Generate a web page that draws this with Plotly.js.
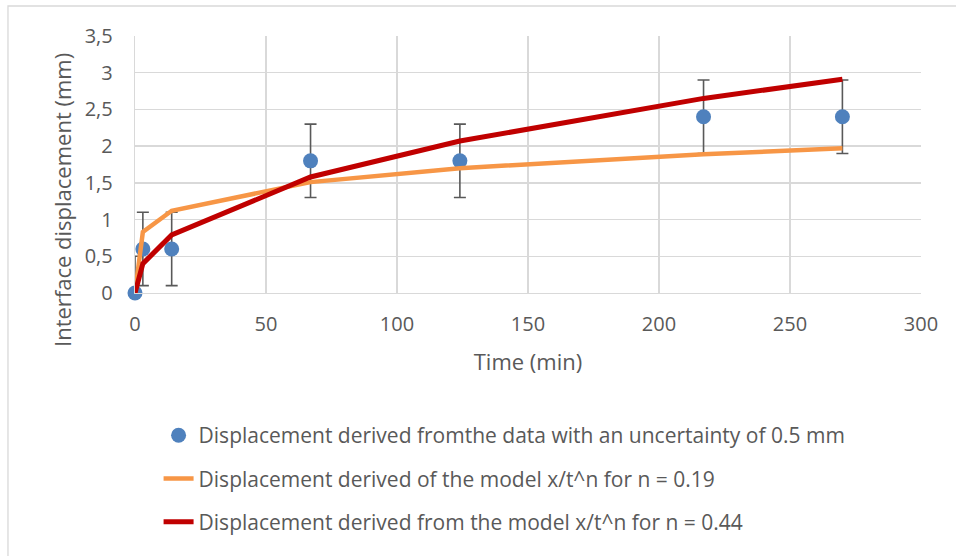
<!DOCTYPE html>
<html>
<head>
<meta charset="utf-8">
<script src="https://cdn.plot.ly/plotly-3.0.1.min.js"></script>
<style>html,body{margin:0;padding:0;background:#fff;}#chart{width:956px;height:556px;}</style>
</head>
<body>
<div id="chart"></div>
<script>
const timeData = [0, 3, 14, 67, 124, 217, 270];
const dispData = [0, 0.6, 0.6, 1.8, 1.8, 2.4, 2.4];
const uncertainty = [0.5, 0.5, 0.5, 0.5, 0.5, 0.5, 0.5];
const model019 = [0, 0.83, 1.12, 1.51, 1.70, 1.89, 1.97];
const model044 = [0, 0.40, 0.79, 1.58, 2.07, 2.65, 2.91];
const names = [
  "Displacement derived fromthe data with an uncertainty of 0.5 mm",
  "Displacement derived of the model x/t^n for n = 0.19",
  "Displacement derived from the model x/t^n for n = 0.44"
];
const xTitle = "Time (min)";
const yTitle = "Interface displacement (mm)";

const font = "'Open Sans', 'Liberation Sans', sans-serif";
const txt = "#595959";

const traces = [
  {
    x: timeData, y: dispData, name: names[0], type: "scatter", mode: "markers",
    marker: {color: "rgba(0,0,0,0)", size: 15},
    error_y: {type: "data", array: uncertainty, visible: true, color: "#595959", thickness: 1.6, width: 6},
    showlegend: false, hoverinfo: "skip", cliponaxis: true
  },
  {
    x: timeData, y: dispData, name: names[0], type: "scatter", mode: "markers",
    marker: {color: "#4f81bd", size: 15},
    legendgroup: "a", cliponaxis: false
  },
  {
    x: timeData, y: model019, name: names[1], type: "scatter", mode: "lines",
    line: {color: "#f79646", width: 4.5},
    legendgroup: "b"
  },
  {
    x: timeData, y: model044, name: names[2], type: "scatter", mode: "lines",
    line: {color: "#c00000", width: 5},
    legendgroup: "c"
  }
];

const layout = {
  width: 956, height: 556,
  paper_bgcolor: "#fff", plot_bgcolor: "#fff",
  separators: ", ",
  margin: {l: 135, r: 35, t: 36, b: 263},
  font: {family: font, size: 20, color: txt},
  xaxis: {
    range: [0, 300], dtick: 50, tick0: 0, automargin: false,
    showgrid: true, gridcolor: "#d9d9d9", gridwidth: 1.3,
    zeroline: false, showline: true, linecolor: "#d9d9d9", linewidth: 1.3,
    ticks: "", tickfont: {size: 20, color: txt},
    ticklabelstandoff: 13,
    title: {text: xTitle, font: {size: 22, color: txt}, standoff: 18}
  },
  yaxis: {
    range: [0, 3.5], dtick: 0.5, tick0: 0, automargin: false,
    showgrid: true, gridcolor: "#d9d9d9", gridwidth: 1.3,
    zeroline: false, showline: true, linecolor: "#d9d9d9", linewidth: 1.3,
    ticks: "", tickfont: {size: 20, color: txt},
    ticklabelstandoff: 17
  },
  annotations: [
    {text: yTitle, xref: "paper", yref: "paper", textangle: -90,
     x: (62 - 135) / 786, y: (293 - 200) / 257, xanchor: "center", yanchor: "middle",
     showarrow: false, font: {size: 22, color: txt, family: font}}
  ],
  showlegend: true,
  legend: {
    x: 0.03, y: -0.475, xanchor: "left", yanchor: "top",
    orientation: "v", traceorder: "grouped",
    font: {size: 21, color: txt, family: font},
    tracegroupgap: 13, bgcolor: "rgba(0,0,0,0)"
  },
  shapes: [
    {type: "rect", xref: "paper", yref: "paper", x0: -0.1616, x1: 1.3, y0: -1.5, y1: 1.1167,
     line: {color: "#d9d9d9", width: 1.3}, fillcolor: "rgba(0,0,0,0)", layer: "below"}
  ]
};

Plotly.newPlot("chart", traces, layout, {displayModeBar: false, staticPlot: true});
</script>
</body>
</html>
